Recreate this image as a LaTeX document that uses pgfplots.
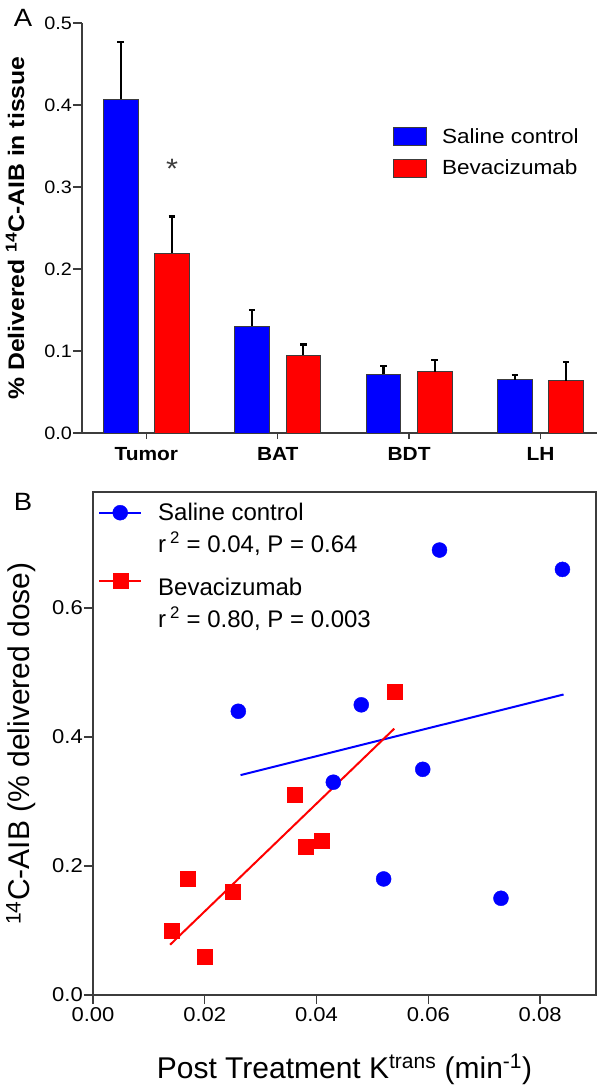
\documentclass[border=0pt]{standalone}
\usepackage{fontspec}
\setmainfont{Liberation Sans}[FakeStretch=1.1]
\newfontfamily\plainfont{Liberation Sans}
\usepackage{pgfplots}
\pgfplotsset{compat=1.18}
\definecolor{barblue}{RGB}{0,0,255}
\definecolor{barred}{RGB}{255,0,0}
\definecolor{axgray}{RGB}{60,60,60}
\begin{document}
\begin{tikzpicture}
\useasboundingbox (0pt,0pt) rectangle (600pt,-1087pt);
\node[font=\fontsize{25}{25}\selectfont] at (23pt,-17.5pt) {A};
\node[font=\fontsize{25}{25}\selectfont] at (23pt,-502pt) {B};

\begin{axis}[
  at={(82pt,-433pt)}, anchor=south west,
  scale only axis, width=515pt, height=410pt,
  xmin=-0.49, xmax=3.43, ymin=0, ymax=0.5,
  axis x line*=bottom, axis y line*=left,
  axis line style={line width=1.3pt, color=axgray},
  xtick={0,1,2,3}, xticklabels={Tumor,BAT,BDT,LH},
  ytick={0,0.1,0.2,0.3,0.4,0.5},
  tick align=outside,
  major tick length=9pt,
  xtick style={line width=1.3pt, color=axgray, /pgfplots/major tick length=6pt},
  ytick style={line width=1.3pt, color=axgray},
  x tick label style={font=\fontsize{19}{19}\selectfont\bfseries, yshift=-2pt},
  y tick label style={font=\fontsize{18}{18}\selectfont, inner xsep=1pt},
  yticklabel style={/pgf/number format/.cd, fixed, fixed zerofill, precision=1, assume math mode=true},
  ylabel={\% Delivered \textsuperscript{14}C-AIB in tissue},
  ylabel style={font=\fontsize{22.5}{22.5}\selectfont\bfseries, at={(axis description cs:-0.13,0.5)}, rotate=0, anchor=center},
  legend style={at={(axis description cs:0.598,0.753)}, anchor=north west, draw=none, fill=none,
    font=\fontsize{20.5}{20.5}\selectfont, row sep=11pt,
    /tikz/every odd column/.append style={column sep=13pt}},
  legend cell align=left,
  bar width=0.262,
  error bars/y dir=plus, error bars/y explicit,
  error bars/error bar style={line width=2.2pt, black},
  error bars/error mark options={line width=2.2pt, mark size=3.3pt, black, rotate=90},
]
\addplot[ybar, bar shift=0pt, fill=barblue, draw=axgray, line width=0.9pt,
  legend image code/.code={\draw[fill=barblue, draw=axgray, line width=0.9pt] (0pt,-9pt) rectangle (33pt,9pt);}]
  coordinates {(-0.195,0.407) +- (0,0.070) (0.805,0.130) +- (0,0.020) (1.805,0.0715) +- (0,0.0105) (2.805,0.065) +- (0,0.006)};
\addlegendentry{Saline control}
\addplot[ybar, bar shift=0pt, fill=barred, draw=axgray, line width=0.9pt,
  legend image code/.code={\draw[fill=barred, draw=axgray, line width=0.9pt] (0pt,-9pt) rectangle (33pt,9pt);}]
  coordinates {(0.195,0.219) +- (0,0.045) (1.195,0.095) +- (0,0.013) (2.195,0.075) +- (0,0.014) (3.195,0.064) +- (0,0.023)};
\addlegendentry{Bevacizumab}
\node[font=\fontsize{28}{28}\selectfont, color=axgray] at (axis cs:0.195,0.322) {*};
\end{axis}

\begin{axis}[
  at={(93pt,-995pt)}, anchor=south west,
  scale only axis, width=503pt, height=503pt,
  xmin=0, xmax=0.09, ymin=0, ymax=0.78,
  axis line style={line width=1.3pt, color=axgray},
  xtick={0,0.02,0.04,0.06,0.08}, ytick={0,0.2,0.4,0.6},
  xtick pos=left, ytick pos=left,
  tick align=outside, major tick length=9pt,
  tick style={line width=1.3pt, color=axgray},
  x tick label style={font=\fontsize{20}{20}\selectfont},
  y tick label style={font=\fontsize{20}{20}\selectfont, inner xsep=1pt},
  xticklabel style={/pgf/number format/.cd, fixed, fixed zerofill, precision=2, assume math mode=true},
  yticklabel style={/pgf/number format/.cd, fixed, fixed zerofill, precision=1, assume math mode=true},
  scaled x ticks=false, scaled y ticks=false,
  xlabel={Post Treatment K\textsuperscript{trans} (min\textsuperscript{-1})},
  xlabel style={font=\plainfont\fontsize{30}{30}\selectfont, at={(axis description cs:0.5,-0.165)}, anchor=base},
  ylabel={\textsuperscript{14}C-AIB (\% delivered dose)},
  ylabel style={font=\plainfont\fontsize{30}{30}\selectfont, at={(axis description cs:-0.143,0.5)}, rotate=0, anchor=center},
  legend style={at={(axis description cs:0.004,0.986)}, anchor=north west, draw=none, fill=none,
    font=\plainfont\fontsize{24}{24}\selectfont, row sep=6pt,
    /tikz/every odd column/.append style={column sep=14pt}},
  legend cell align=left,
]
\addplot[only marks, mark=*, mark size=7.5pt, color=barblue,
  legend image code/.code={\draw[barblue, line width=2pt] (0pt,0pt) -- (42pt,0pt); \fill[barblue] (21pt,0pt) circle (7.5pt);}]
  coordinates {(0.026,0.44) (0.048,0.45) (0.043,0.33) (0.062,0.69) (0.059,0.35) (0.052,0.18) (0.073,0.15) (0.084,0.66)};
\addlegendentry{Saline control}
\addlegendimage{empty legend}
\addlegendentry{r\,\textsuperscript{2} = 0.04, P = 0.64}
\addplot[no marks, barblue, line width=2pt, forget plot] coordinates {(0.0264,0.341) (0.0842,0.466)};
\addplot[only marks, mark=square*, mark size=7.5pt, color=barred,
  legend image code/.code={\draw[barred, line width=2pt] (0pt,0pt) -- (42pt,0pt); \fill[barred] (13.5pt,-7.5pt) rectangle (28.5pt,7.5pt);}]
  coordinates {(0.014,0.10) (0.017,0.18) (0.020,0.06) (0.025,0.16) (0.036,0.31) (0.038,0.23) (0.041,0.24) (0.054,0.47)};
\addlegendentry{\rule{0pt}{31pt}Bevacizumab}
\addlegendimage{empty legend}
\addlegendentry{r\,\textsuperscript{2} = 0.80, P = 0.003}
\addplot[no marks, barred, line width=2pt, forget plot] coordinates {(0.0138,0.078) (0.0539,0.413)};
\end{axis}
\end{tikzpicture}
\end{document}
